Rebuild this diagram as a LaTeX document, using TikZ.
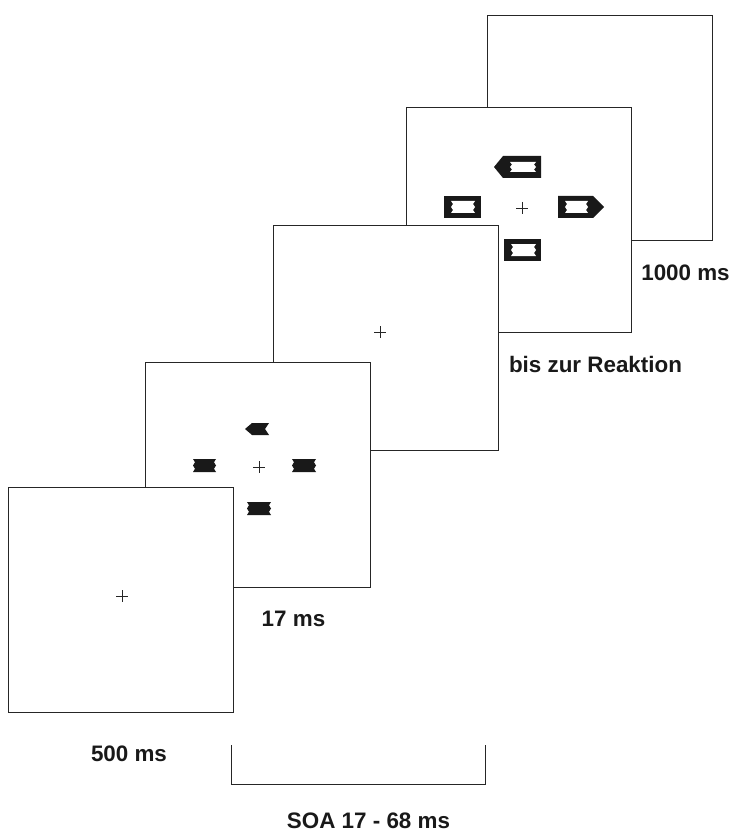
\documentclass[tikz,border=0pt]{standalone}
\usepackage{fontspec}
\setmainfont{Liberation Sans}
\newcommand\jagrect[5]{%
  \fill[#1] (#2,#3) -- ++(#4,0) -- ++(-2,{#5/4}) -- ++(2,{#5/4}) -- ++(-2,{#5/4}) -- ++(2,{#5/4})
    -- ++(-#4,0) -- ++(2,{-#5/4}) -- ++(-2,{-#5/4}) -- ++(2,{-#5/4}) -- cycle;}
\begin{document}
\begin{tikzpicture}[x=1pt,y=-1pt,
  screen/.style={draw=black!85, line width=1.1pt, fill=white, minimum width=225pt,
    minimum height=225pt, inner sep=0pt, anchor=north west},
  lbl/.style={font=\fontsize{22.4}{26}\selectfont\bfseries, anchor=base, inner sep=0pt, text=black!90},
  fixline/.style={line width=0.9pt, draw=black!85}]
\useasboundingbox (0,0) rectangle (731,834);
% screens, back to front
\node[screen] (s5) at (487,15) {};
\node[screen] (s4) at (406,107) {};
\node[screen] (s3) at (273,225) {};
\node[screen] (s2) at (145,362) {};
\node[screen] (s1) at (8,487) {};
% fixation crosses
\draw[fixline] (116,596) -- (128,596) (122,590) -- (122,602);
\draw[fixline] (253,467) -- (265,467) (259,461) -- (259,473);
\draw[fixline] (374,332) -- (386,332) (380,326) -- (380,338);
\draw[fixline] (516,208) -- (528,208) (522,202) -- (522,214);
% prime stimuli (screen 2)
\fill[black!90] (245,429) -- (252,423) -- (269,423) -- (265,429) -- (269,435) -- (252,435) -- cycle;
\jagrect{black!90}{193}{459}{23}{13}
\jagrect{black!90}{292}{459}{24}{13}
\jagrect{black!90}{247}{502}{24}{13}
% target stimuli (screen 4)
\fill[black!90] (494,167) -- (503,156) -- (541,156) -- (541,178) -- (503,178) -- cycle;
\jagrect{white}{510}{162}{26}{10}
\fill[black!90] (444,196) rectangle (481,218);
\jagrect{white}{451}{201}{24}{12}
\fill[black!90] (558,196) -- (593,196) -- (604,207) -- (593,218) -- (558,218) -- cycle;
\jagrect{white}{565}{201}{23}{12}
\fill[black!90] (504,239) rectangle (541,261);
\jagrect{white}{511}{244}{25}{12}
% bracket
\coordinate (b1) at (231,745);
\coordinate (b2) at (231,784);
\coordinate (b3) at (485,784);
\coordinate (b4) at (485,745);
\draw[line width=1pt, draw=black!85] (b1) -- (b2) -- (b3) -- (b4);
% labels
\node[lbl] (l500) at (129,761) {500 ms};
\node[lbl] (l17) at (293.5,626) {17 ms};
\node[lbl] (lsoa) at (368.5,828) {SOA 17 - 68 ms};
\node[lbl] (l1000) at (685.5,280) {1000 ms};
\node[lbl] (lbis) at (595.5,372) {bis zur Reaktion};
\end{tikzpicture}
\end{document}
